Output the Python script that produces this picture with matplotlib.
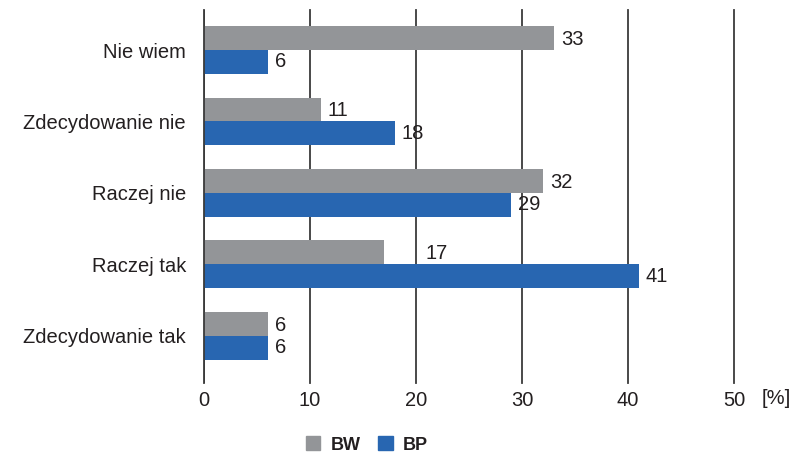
import matplotlib
matplotlib.use("Agg")
import matplotlib.pyplot as plt
import numpy as np
from matplotlib.patches import Patch

plt.rcParams['font.family'] = ['Liberation Sans', 'DejaVu Sans']

categories = ["Zdecydowanie tak", "Raczej tak", "Raczej nie", "Zdecydowanie nie", "Nie wiem"]
bw = [6, 17, 32, 11, 33]
bp = [6, 41, 29, 18, 6]
x_ticks = [0, 10, 20, 30, 40, 50]

gray = "#939598"
blue = "#2866b1"
txt = "#231f20"
fs = 14.5

fig = plt.figure(figsize=(8.08, 4.55), dpi=100)
ax = fig.add_axes([204/808, 1-383/455, (734-204)/808, (383-10)/455])

y = np.arange(len(categories))
h = 0.335
ax.barh(y + h/2, bw, height=h, color=gray, zorder=3)
ax.barh(y - h/2, bp, height=h, color=blue, zorder=3)

# value labels (BW "17" sits further right in the original)
for i, v in enumerate(bw):
    off = 30 if v == 17 else 5
    ax.annotate(str(v), (v, y[i] + h/2), xytext=(off, -1), textcoords="offset points",
                va="center", ha="left", fontsize=fs, color=txt)
for i, v in enumerate(bp):
    ax.annotate(str(v), (v, y[i] - h/2), xytext=(5, 0), textcoords="offset points",
                va="center", ha="left", fontsize=fs, color=txt)

ax.set_xlim(0, 50)
ax.set_ylim(-0.66, 4.56)
ax.set_xticks(x_ticks)
ax.set_xticklabels([str(t) for t in x_ticks], fontsize=fs, color=txt)
ax.set_yticks(y)
ax.set_yticklabels(categories, fontsize=fs, color=txt)
ax.tick_params(axis="x", length=0, pad=6)
ax.tick_params(axis="y", length=0, pad=13)
ax.grid(axis="x", color="#3a3a3a", linewidth=1.3, zorder=1)
for gl in ax.get_xgridlines():
    gl.set_clip_on(False)
for s in ax.spines.values():
    s.set_visible(False)
ax.axvline(0, color="#3a3a3a", linewidth=1.3, zorder=4)

fig.text(762/808, 1-399/455, "[%]", fontsize=fs, color=txt, ha="left", va="center")

handles = [Patch(color=gray, label="BW"), Patch(color=blue, label="BP")]
leg = fig.legend(handles=handles, loc="center", bbox_to_anchor=(367/808, 1-445/455), ncol=2,
                 frameon=False, prop={"weight": "bold", "size": 13}, handlelength=0.8,
                 handleheight=0.8, handletextpad=0.55, columnspacing=1.0,
                 borderpad=0, borderaxespad=0)
for t in leg.get_texts():
    t.set_color(txt)

fig.savefig("out.png", dpi=100)
